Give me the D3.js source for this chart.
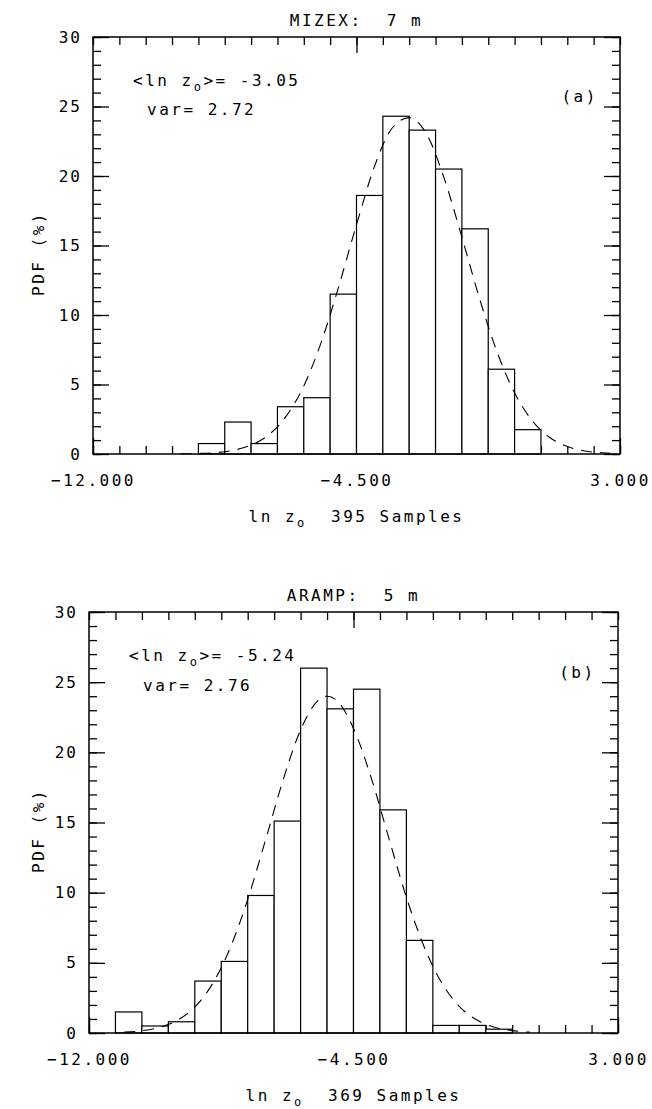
<!DOCTYPE html>
<html><head><meta charset="utf-8">
<script src="https://cdn.jsdelivr.net/npm/d3@7"></script>
<style>
body{margin:0;background:#fff;}
svg{display:block;background:#fff;}
text{font-family:"DejaVu Sans Mono",monospace;font-size:16px;fill:#000;letter-spacing:2.5px;white-space:pre;}
</style></head><body>
<svg id="c" width="652" height="1109"></svg>
<script>
// ---- data ----
const binStarts = [-12,-11.25,-10.5,-9.75,-9,-8.25,-7.5,-6.75,-6,-5.25,-4.5,-3.75,-3,-2.25,-1.5,-0.75,0,0.75,1.5,2.25];
const binWidth = 0.75;
const xLabelValues = [-12,-4.5,3];
const yLabelValues = [0,5,10,15,20,25,30];

const mizexPdf = [0,0,0,0,0.75,2.3,0.75,3.4,4.05,11.5,18.6,24.3,23.3,20.5,16.2,6.1,1.75,0,0,0];
const mizexFitX = [-9.5,-9,-8.5,-8,-7.5,-7,-6.5,-6,-5.5,-5,-4.5,-4,-3.5,-3,-2.5,-2,-1.5,-1,-0.5,0,0.5,1,1.5,2,2.5,3];
const mizexFitY = [0.012,0.036,0.10,0.27,0.64,1.38,2.72,4.90,8.07,12.1,16.5,20.6,23.4,24.2,23.0,19.8,15.6,11.2,7.35,4.40,2.40,1.19,0.54,0.22,0.085,0.03];

const arampPdf = [0,1.5,0.5,0.8,3.7,5.1,9.8,15.1,26.0,23.1,24.5,15.9,6.6,0.54,0.54,0.27,0,0,0,0];
const arampFitX = [-11,-10.5,-10,-9.5,-9,-8.5,-8,-7.5,-7,-6.5,-6,-5.5,-5.25,-5,-4.5,-4,-3.5,-3,-2.5,-2,-1.5,-1,-0.5,0,0.5];
const arampFitY = [0.06,0.16,0.40,0.90,1.85,3.50,6.04,9.52,13.7,18.0,21.6,23.7,24.0,23.75,21.7,18.2,13.9,9.67,6.16,3.58,1.90,0.92,0.41,0.17,0.06];

const panels = [
  {title:"MIZEX:\u00A0\u00A07 m", letter:"(a)", mean:"-3.05", vari:"2.72", samples:"395",
   pdf:mizexPdf, fx:mizexFitX, fy:mizexFitY,
   box:{x0:93,x1:620,y0:37,y1:454}},
  {title:"ARAMP:\u00A0\u00A05 m", letter:"(b)", mean:"-5.24", vari:"2.76", samples:"369",
   pdf:arampPdf, fx:arampFitX, fy:arampFitY,
   box:{x0:89,x1:618,y0:612,y1:1033}}
];

const svg = d3.select("#c");
const edges = binStarts.concat([binStarts[binStarts.length-1]+binWidth]);
const yMinor = d3.range(0,31);

panels.forEach(p=>{
  const b = p.box;
  const x = d3.scaleLinear().domain([-12,3]).range([b.x0,b.x1]);
  const y = d3.scaleLinear().domain([0,30]).range([b.y1,b.y0]);
  const g = svg.append("g");
  const clean = s=>s.call(a=>a.select(".domain").remove())
    .call(a=>a.selectAll("line").attr("stroke","#000").attr("stroke-width",1.3));

  // left axis
  g.append("g").attr("transform",`translate(${b.x0},0)`)
    .call(d3.axisLeft(y).tickValues(yMinor).tickSize(-8).tickFormat("")).call(clean);
  const la = g.append("g").attr("transform",`translate(${b.x0},0)`)
    .call(d3.axisLeft(y).tickValues(yLabelValues).tickSize(-16).tickPadding(11).tickFormat(d3.format("d"))).call(clean);
  la.selectAll("text").attr("font-family",null).attr("font-size",null).style("letter-spacing","2px");
  // right axis
  g.append("g").attr("transform",`translate(${b.x1},0)`)
    .call(d3.axisRight(y).tickValues(yMinor).tickSize(-8).tickFormat("")).call(clean);
  g.append("g").attr("transform",`translate(${b.x1},0)`)
    .call(d3.axisRight(y).tickValues(yLabelValues).tickSize(-16).tickFormat("")).call(clean);
  // top axis
  g.append("g").attr("transform",`translate(0,${b.y0})`)
    .call(d3.axisTop(x).tickValues(edges).tickSize(-8).tickFormat("")).call(clean);
  g.append("g").attr("transform",`translate(0,${b.y0})`)
    .call(d3.axisTop(x).tickValues([-4.5]).tickSize(-16).tickFormat("")).call(clean);
  // bottom axis
  g.append("g").attr("transform",`translate(0,${b.y1})`)
    .call(d3.axisBottom(x).tickValues(edges).tickSize(-8).tickFormat("")).call(clean);
  const ba = g.append("g").attr("transform",`translate(0,${b.y1})`)
    .call(d3.axisBottom(x).tickValues(xLabelValues).tickSize(-16).tickPadding(21).tickFormat(d3.format(".3f"))).call(clean);
  ba.selectAll("text").attr("font-family",null).attr("font-size",null);

  // bars
  g.append("g").selectAll("rect").data(binStarts.map((s,i)=>({s,v:p.pdf[i]})).filter(d=>d.v>0))
    .join("rect")
    .attr("x",d=>x(d.s)).attr("y",d=>y(d.v))
    .attr("width",d=>x(d.s+binWidth)-x(d.s)).attr("height",d=>y(0)-y(d.v))
    .attr("fill","#fff").attr("stroke","#000").attr("stroke-width",1.2);

  // fitted curve
  const line = d3.line().x(d=>x(d[0])).y(d=>y(d[1])).curve(d3.curveMonotoneX);
  g.append("path").datum(p.fx.map((v,i)=>[v,p.fy[i]]))
    .attr("d",line).attr("fill","none").attr("stroke","#000")
    .attr("stroke-width",1.1).attr("stroke-dasharray","11,8");

  // frame
  g.append("rect").attr("x",b.x0).attr("y",b.y0).attr("width",b.x1-b.x0).attr("height",b.y1-b.y0)
    .attr("fill","none").attr("stroke","#000").attr("stroke-width",1.5);

  // title
  g.append("text").attr("x",(b.x0+b.x1)/2).attr("y",b.y0-11).attr("text-anchor","middle").text(p.title);

  // annotation
  const t1 = g.append("text").attr("x",b.x0+40).attr("y",y(26.5));
  t1.append("tspan").text("<ln z");
  t1.append("tspan").attr("font-size","12px").attr("dy",5).text("o");
  t1.append("tspan").attr("dy",-5).text(">= "+p.mean);
  g.append("text").attr("x",b.x0+54).attr("y",y(24.4)).text("var= "+p.vari);

  g.append("text").attr("x",x(1.85)).attr("y",y(25.3)).attr("text-anchor","middle").text(p.letter);

  // x title
  const xt = g.append("text").attr("x",(b.x0+b.x1)/2).attr("y",b.y1+68).attr("text-anchor","middle");
  xt.append("tspan").text("ln z");
  xt.append("tspan").attr("font-size","12px").attr("dy",5).text("o");
  xt.append("tspan").attr("dy",-5).text("\u00A0\u00A0"+p.samples+" Samples");

  // y title
  g.append("text").attr("transform",`translate(38,${(b.y0+b.y1)/2+8}) rotate(-90)`)
    .attr("text-anchor","middle").attr("dominant-baseline","central").text("PDF (%)");
});
</script>
</body></html>
